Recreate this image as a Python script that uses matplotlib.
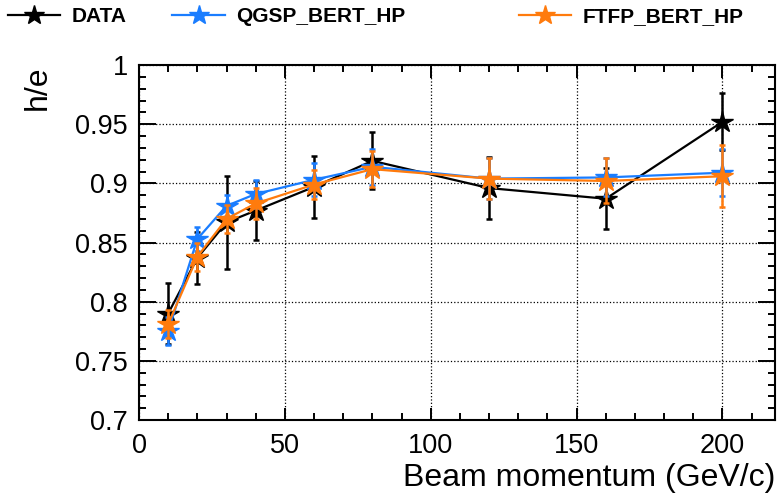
import numpy as np
import matplotlib.pyplot as plt
from matplotlib.ticker import MultipleLocator, FormatStrFormatter

plt.rcParams['font.family'] = ['Liberation Sans', 'DejaVu Sans']

# data
p = [10, 20, 30, 40, 60, 80, 120, 160, 200]
data = [0.790, 0.837, 0.867, 0.877, 0.897, 0.919, 0.896, 0.887, 0.952]
data_err = [0.026, 0.022, 0.039, 0.025, 0.026, 0.024, 0.026, 0.026, 0.024]
qgsp = [0.775, 0.853, 0.881, 0.891, 0.903, 0.914, 0.904, 0.905, 0.909]
qgsp_err = [0.012, 0.010, 0.009, 0.012, 0.014, 0.015, 0.017, 0.016, 0.020]
ftfp = [0.781, 0.838, 0.870, 0.883, 0.899, 0.912, 0.904, 0.902, 0.906]
ftfp_err = [0.012, 0.012, 0.012, 0.013, 0.012, 0.015, 0.017, 0.019, 0.026]

c_data = "black"
c_qgsp = "#1a7dff"
c_ftfp = "#ff7b0d"

fig = plt.figure(figsize=(7.77, 4.97), dpi=100)
ax = fig.add_axes([0.1789, 0.1549, 0.8185, 0.7143])

kw = dict(marker='*', markersize=16, lw=1.6, elinewidth=1.8, capsize=2.5, capthick=1.8)
h1 = ax.errorbar(p, data, yerr=data_err, color=c_data, zorder=3, **kw)
h2 = ax.errorbar(p, qgsp, yerr=qgsp_err, color=c_qgsp, zorder=4, **kw)
h3 = ax.errorbar(p, ftfp, yerr=ftfp_err, color=c_ftfp, zorder=5, **kw)

ax.set_xlim(0, 218)
ax.set_ylim(0.7, 1.0)
ax.xaxis.set_major_locator(MultipleLocator(50))
ax.xaxis.set_minor_locator(MultipleLocator(10))
ax.yaxis.set_major_locator(MultipleLocator(0.05))
ax.yaxis.set_minor_locator(MultipleLocator(0.01))
ax.yaxis.set_major_formatter(FormatStrFormatter('%g'))

ax.tick_params(which='both', direction='in', top=True, right=True, width=1.4, labelsize=19.5)
ax.tick_params(axis='x', which='major', length=9, pad=9)
ax.tick_params(axis='x', which='minor', length=5)
ax.tick_params(axis='y', which='major', length=12, pad=8)
ax.tick_params(axis='y', which='minor', length=5)
for s in ax.spines.values():
    s.set_linewidth(1.5)

ax.grid(True, which='major', ls=':', color='black', lw=0.9)

ax.set_xlabel("Beam momentum (GeV/c)", fontsize=23, loc='right')
ax.xaxis.set_label_coords(1.0, -0.12)
ax.set_ylabel("h/e", fontsize=23, loc='top')
ax.yaxis.set_label_coords(-0.135, 1.0)

# legend along the top, ROOT style
entries = [(h1, "DATA", 0.010), (h2, "QGSP_BERT_HP", 0.222), (h3, "FTFP_BERT_HP", 0.668)]
for h, lab, x0 in entries:
    fig.legend([h.lines[0]], [lab], loc='center left', bbox_to_anchor=(x0, 0.967),
               frameon=False, borderpad=0, borderaxespad=0, handlelength=2.5,
               handletextpad=0.55, prop={'weight': 'bold', 'size': 15}, markerscale=0.9)

fig.savefig("out.png", dpi=100)
